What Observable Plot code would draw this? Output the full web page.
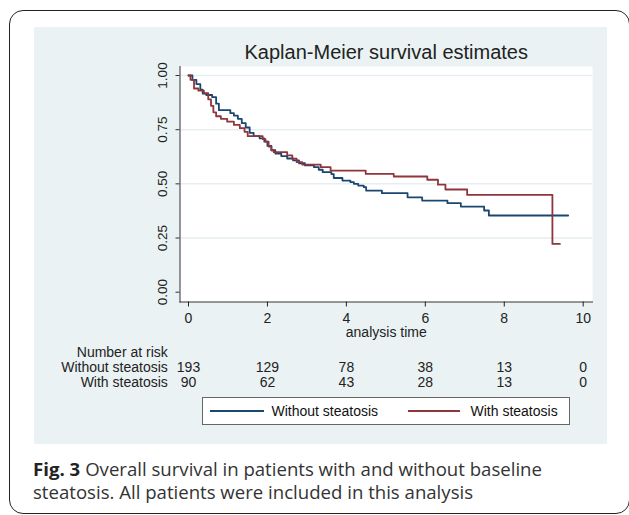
<!DOCTYPE html>
<html>
<head>
<meta charset="utf-8">
<script src="https://cdn.jsdelivr.net/npm/d3@7"></script>
<script src="https://cdn.jsdelivr.net/npm/@observablehq/plot@0.6"></script>
<style>
  html, body { margin: 0; padding: 0; background: #fff; }
  body { width: 629px; height: 515px; position: relative; overflow: hidden; }
  #frame { position: absolute; left: 8.5px; top: 9.5px; width: 621px; height: 504px; border: 1.5px solid #222; border-radius: 14px; box-sizing: border-box; }
  #chart { position: absolute; left: 34px; top: 27px; }
  #legend { position: absolute; left: 201.5px; top: 397px; width: 368px; height: 28px; border: 1px solid #666; background: #fff; box-sizing: border-box; font-family: "Liberation Sans", Arial, sans-serif; font-size: 14px; color: #111; }
  #legend svg { position: absolute; left: 0; top: 0; }
  #legend .lab { position: absolute; top: 5px; line-height: 16px; white-space: nowrap; }
  #caption { position: absolute; left: 33px; top: 458px; font-family: "Open Sans", sans-serif; font-size: 18.6px; line-height: 22.5px; color: #333; width: 540px; }
  #caption .fig { font-weight: bold; color: #222; margin-right: 5px; }
</style>
</head>
<body>
<div id="frame"></div>
<div id="chart"></div>
<div id="legend"></div>
<div id="caption"><span class="fig">Fig. 3</span>Overall survival in patients with and without baseline steatosis. All patients were included in this analysis</div>
<script>
// ---- data ----
const seriesNames = ["Without steatosis", "With steatosis"];
const seriesColors = ["#1a476f", "#90353b"];

const tWithout = [0, 0.1, 0.2, 0.3, 0.36, 0.45, 0.6, 0.7, 0.77, 1.06, 1.15, 1.25, 1.35, 1.45, 1.55, 1.65, 1.8, 1.92, 2.0, 2.1, 2.2, 2.35, 2.5, 2.65, 2.8, 2.95, 3.18, 3.3, 3.4, 3.62, 3.68, 3.9, 4.1, 4.19, 4.3, 4.44, 4.5, 4.9, 5.55, 5.92, 6.56, 6.9, 7.49, 7.61, 9.62];
const sWithout = [1, 0.98, 0.96, 0.935, 0.916, 0.91, 0.9, 0.87, 0.84, 0.826, 0.815, 0.8, 0.78, 0.76, 0.735, 0.72, 0.71, 0.695, 0.675, 0.655, 0.64, 0.628, 0.617, 0.608, 0.595, 0.585, 0.577, 0.565, 0.554, 0.545, 0.527, 0.515, 0.508, 0.5, 0.492, 0.485, 0.469, 0.457, 0.438, 0.423, 0.411, 0.395, 0.377, 0.354, 0.354];

const tWith = [0, 0.05, 0.14, 0.25, 0.39, 0.5, 0.57, 0.63, 0.7, 0.82, 0.98, 1.15, 1.3, 1.42, 1.5, 1.88, 1.95, 2.03, 2.1, 2.16, 2.5, 2.63, 2.74, 2.88, 3.35, 3.6, 4.49, 5.2, 6.05, 6.32, 6.51, 7.06, 9.22, 9.41];
const sWith = [1, 0.98, 0.94, 0.93, 0.918, 0.89, 0.86, 0.83, 0.812, 0.8, 0.787, 0.772, 0.757, 0.74, 0.72, 0.706, 0.695, 0.672, 0.655, 0.646, 0.631, 0.616, 0.6, 0.589, 0.577, 0.561, 0.546, 0.534, 0.519, 0.496, 0.474, 0.449, 0.223, 0.223];

const xTicks = [0, 2, 4, 6, 8, 10];
const yTicks = [0, 0.25, 0.5, 0.75, 1];
const yTickLabels = ["0.00", "0.25", "0.50", "0.75", "1.00"];
const yGrid = [0.25, 0.5, 0.75, 1];
const atRiskWithout = [193, 129, 78, 38, 13, 0];
const atRiskWith = [90, 62, 43, 28, 13, 0];

const titleText = "Kaplan-Meier survival estimates";
const xLabel = "analysis time";
const riskHeader = "Number at risk";

// ---- build tables ----
const dWithout = tWithout.map((t, i) => ({t, s: sWithout[i]}));
const dWith = tWith.map((t, i) => ({t, s: sWith[i]}));

const font = '"Liberation Sans", Arial, sans-serif';

const chart = Plot.plot({
  width: 573,
  height: 417,
  marginLeft: 145.5,
  marginRight: 15,
  marginTop: 39,
  marginBottom: 142.5,
  style: {background: "#eaf2f3", fontFamily: font, fontSize: "14px", color: "#222", overflow: "visible"},
  x: {domain: [0, 10], range: [154, 548.7]},
  y: {domain: [0, 1], range: [264.7, 48]},
  marks: [
    Plot.frame({fill: "#fff", stroke: null}),
    Plot.gridY(yGrid, {stroke: "#e6eef1", strokeOpacity: 1, strokeWidth: 1.5}),
    Plot.frame({anchor: "left", stroke: "#333", strokeWidth: 1}),
    Plot.frame({anchor: "bottom", stroke: "#333", strokeWidth: 1}),
    Plot.axisX(xTicks, {tickSize: 5, tickPadding: 6.5, fontSize: 14, color: "#222", label: null}),
    Plot.axisY(yTicks, {tickSize: 4, tickFormat: () => "", color: "#333", label: null}),
    Plot.text(yTicks, {y: d => d, text: (d, i) => yTickLabels[i], frameAnchor: "left", rotate: -90, dx: -17.8, textAnchor: "middle", lineAnchor: "middle", fontSize: 13.5, fill: "#222"}),
    Plot.text([titleText], {frameAnchor: "top", dy: -8, lineAnchor: "bottom", fontSize: 20, fill: "#222"}),
    Plot.text([xLabel], {frameAnchor: "bottom", dy: 31, lineAnchor: "middle", fontSize: 14, fill: "#222"}),
    Plot.text([riskHeader], {frameAnchor: "bottom-left", dx: -12.2, dy: 50.5, textAnchor: "end", lineAnchor: "middle", fontSize: 14, fill: "#222"}),
    Plot.text([seriesNames[0]], {frameAnchor: "bottom-left", dx: -12.2, dy: 66, textAnchor: "end", lineAnchor: "middle", fontSize: 14, fill: "#222"}),
    Plot.text([seriesNames[1]], {frameAnchor: "bottom-left", dx: -12.2, dy: 81, textAnchor: "end", lineAnchor: "middle", fontSize: 14, fill: "#222"}),
    Plot.text(xTicks, {x: d => d, text: (d, i) => String(atRiskWithout[i]), frameAnchor: "bottom", dy: 66, lineAnchor: "middle", fontSize: 14, fill: "#222"}),
    Plot.text(xTicks, {x: d => d, text: (d, i) => String(atRiskWith[i]), frameAnchor: "bottom", dy: 81, lineAnchor: "middle", fontSize: 14, fill: "#222"}),
    Plot.line(dWithout, {x: "t", y: "s", curve: "step-after", stroke: seriesColors[0], strokeWidth: 1.8}),
    Plot.line(dWith, {x: "t", y: "s", curve: "step-after", stroke: seriesColors[1], strokeWidth: 1.8})
  ]
});
document.getElementById("chart").appendChild(chart);

// ---- legend (HTML + inline SVG swatches) ----
const legend = document.getElementById("legend");
const legendItems = [
  {swLeft: 7, swWidth: 54, labLeft: 69},
  {swLeft: 205, swWidth: 52, labLeft: 268}
];
const ns = "http://www.w3.org/2000/svg";
const swSvg = document.createElementNS(ns, "svg");
swSvg.setAttribute("width", "366");
swSvg.setAttribute("height", "26");
legend.appendChild(swSvg);
seriesNames.forEach((name, i) => {
  const ln = document.createElementNS(ns, "line");
  ln.setAttribute("x1", legendItems[i].swLeft);
  ln.setAttribute("x2", legendItems[i].swLeft + legendItems[i].swWidth);
  ln.setAttribute("y1", 13);
  ln.setAttribute("y2", 13);
  ln.setAttribute("stroke", seriesColors[i]);
  ln.setAttribute("stroke-width", 1.8);
  swSvg.appendChild(ln);
  const lab = document.createElement("div");
  lab.className = "lab";
  lab.style.left = legendItems[i].labLeft + "px";
  lab.textContent = name;
  legend.appendChild(lab);
});
</script>
</body>
</html>
